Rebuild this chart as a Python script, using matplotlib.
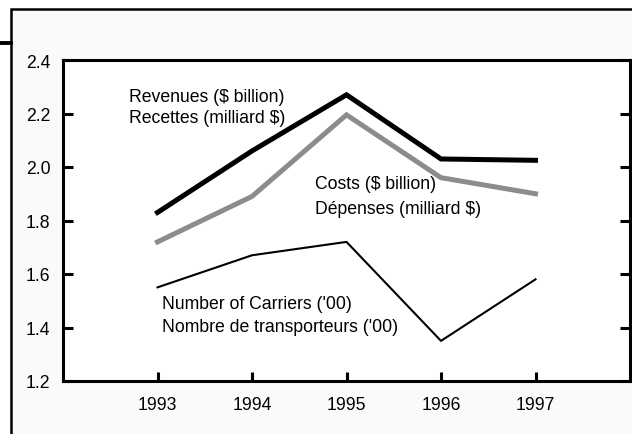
import matplotlib
matplotlib.use("Agg")
import matplotlib.pyplot as plt
from matplotlib.patches import Rectangle
from matplotlib.lines import Line2D

years = [1993, 1994, 1995, 1996, 1997]
revenues = [1.83, 2.06, 2.27, 2.03, 2.025]
costs = [1.72, 1.89, 2.195, 1.96, 1.90]
carriers = [1.55, 1.67, 1.72, 1.35, 1.58]
y_ticks = [1.2, 1.4, 1.6, 1.8, 2.0, 2.2, 2.4]

plt.rcParams["font.family"] = ["Liberation Sans", "DejaVu Sans"]
fs = 12.7

fig = plt.figure(figsize=(6.32, 4.35), dpi=100)
fig.patch.set_facecolor("white")

# outer frame (runs off the right and bottom edges)
frame = Rectangle((11 / 632, -0.1), 1.2, (435 - 10) / 435 + 0.1,
                  transform=fig.transFigure, facecolor="#fafafa",
                  edgecolor="black", linewidth=1.8, zorder=-5)
fig.patches.append(frame)
fig.lines.append(Line2D([0, 11 / 632], [1 - 44 / 435, 1 - 44 / 435],
                        transform=fig.transFigure, color="black", linewidth=2.8,
                        zorder=-4))

ax = fig.add_axes([63 / 632, 53 / 435, 567 / 632, 321 / 435])
ax.set_zorder(2)
ax.set_facecolor("white")

ax.plot(years, revenues, color="black", linewidth=3.6, solid_joinstyle="miter")
ax.plot(years, costs, color="#8c8c8c", linewidth=3.6, solid_joinstyle="miter")
ax.plot(years, carriers, color="black", linewidth=1.5)

ax.set_xlim(1992, 1998)
ax.set_ylim(1.2, 2.4)
ax.set_xticks(years)
ax.set_yticks(y_ticks)
ax.set_yticklabels([f"{v:.1f}" for v in y_ticks])

for s in ax.spines.values():
    s.set_linewidth(2.2)
ax.tick_params(axis="y", direction="in", length=7, width=2.2, left=True, right=True,
               labelsize=fs, pad=9)
ax.tick_params(axis="x", direction="in", length=6.5, width=2.2, labelsize=fs, pad=11)

ax.text(1992.7, 2.265, "Revenues ($ billion)", fontsize=fs, va="center")
ax.text(1992.7, 2.185, "Recettes (milliard $)", fontsize=fs, va="center")
ax.text(1994.67, 1.94, "Costs ($ billion)", fontsize=fs, va="center")
ax.text(1994.67, 1.845, "Dépenses (milliard $)", fontsize=fs, va="center")
ax.text(1993.05, 1.49, "Number of Carriers ('00)", fontsize=fs, va="center")
ax.text(1993.05, 1.405, "Nombre de transporteurs ('00)", fontsize=fs, va="center")

fig.savefig("out.png", dpi=100)
